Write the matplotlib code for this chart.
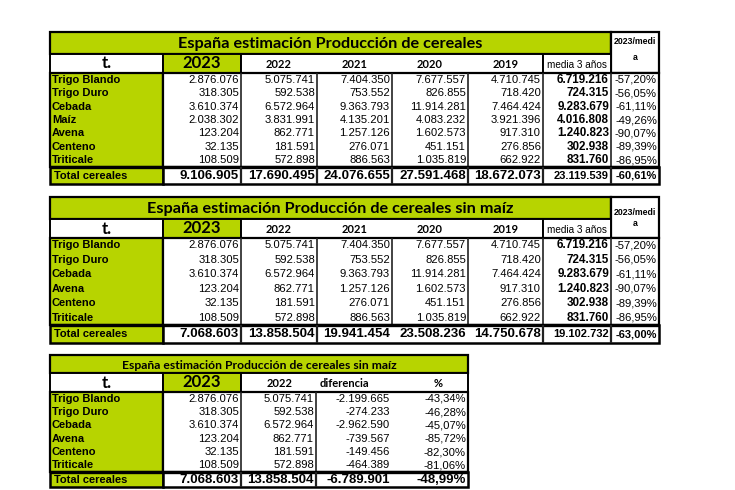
import matplotlib.pyplot as plt
from matplotlib.patches import Rectangle

# datos (t.)
cultivos = ['Trigo Blando', 'Trigo Duro', 'Cebada', 'Maíz', 'Avena', 'Centeno', 'Triticale']
anios = ['2022', '2021', '2020', '2019']
v2023 = ['2.876.076', '318.305', '3.610.374', '2.038.302', '123.204', '32.135', '108.509']
v2022 = ['5.075.741', '592.538', '6.572.964', '3.831.991', '862.771', '181.591', '572.898']
v2021 = ['7.404.350', '753.552', '9.363.793', '4.135.201', '1.257.126', '276.071', '886.563']
v2020 = ['7.677.557', '826.855', '11.914.281', '4.083.232', '1.602.573', '451.151', '1.035.819']
v2019 = ['4.710.745', '718.420', '7.464.424', '3.921.396', '917.310', '276.856', '662.922']
media3 = ['6.719.216', '724.315', '9.283.679', '4.016.808', '1.240.823', '302.938', '831.760']
pct_media = ['-57,20%', '-56,05%', '-61,11%', '-49,26%', '-90,07%', '-89,39%', '-86,95%']
total_1 = ['9.106.905', '17.690.495', '24.076.655', '27.591.468', '18.672.073', '23.119.539', '-60,61%']
total_2 = ['7.068.603', '13.858.504', '19.941.454', '23.508.236', '14.750.678', '19.102.732', '-63,00%']

diferencia = ['-2.199.665', '-274.233', '-2.962.590', '-739.567', '-149.456', '-464.389']
pct_dif = ['-43,34%', '-46,28%', '-45,07%', '-85,72%', '-82,30%', '-81,06%']
total_3 = ['7.068.603', '13.858.504', '-6.789.901', '-48,99%']

VERDE = '#b7d400'
NUM = 'Liberation Sans'
CAL = 'Lato'

fig = plt.figure(figsize=(7.35, 4.9), dpi=100)
ax = fig.add_axes([0, 0, 1, 1])
ax.set_xlim(0, 735)
ax.set_ylim(490, 0)
ax.axis('off')


def caja(x0, y0, x1, y1, color='white', lw=1.0):
    ax.add_patch(Rectangle((x0, y0), x1 - x0, y1 - y0, facecolor=color,
                           edgecolor='black', linewidth=lw, zorder=2))


def vlinea(x, y0, y1, lw=1.0):
    ax.plot([x, x], [y0, y1], color='#222222', lw=lw, zorder=3, solid_capstyle='butt')


def hlinea(x0, x1, y, lw=1.0):
    ax.plot([x0, x1], [y, y], color='black', lw=lw, zorder=3, solid_capstyle='butt')


def texto(x, y, s, ha='right', size=8, bold=False, family=NUM):
    ax.text(x, y, s, ha=ha, va='center', fontsize=size, family=family,
            fontweight='bold' if bold else 'normal', zorder=4)


def tabla_grande(ytit, yhead, ydat, ytot, ybot, titulo, filas, cols, totales,
                 ymedi, ya, tot_sin_lineas=()):
    xs = [50, 163, 241, 317, 392, 468, 543, 611, 659]
    n = len(filas)
    h = (ytot - ydat) / n
    # titulo
    caja(xs[0], ytit, xs[7], yhead, VERDE, 1.6)
    texto((xs[0] + xs[7]) / 2, (ytit + yhead) / 2 + 1, titulo, 'center', 11.7, True, CAL)
    caja(xs[7], ytit, xs[8], ydat, 'white', 1.6)
    texto((xs[7] + xs[8]) / 2, ymedi, '2023/medi', 'center', 6.3, True)
    texto((xs[7] + xs[8]) / 2, ya, 'a', 'center', 6.3, True)
    # cabecera
    caja(xs[0], yhead, xs[1], ydat, 'white', 1.4)
    texto((xs[0] + xs[1]) / 2, (yhead + ydat) / 2, 't.', 'center', 12, True, CAL)
    caja(xs[1], yhead, xs[2], ydat, VERDE, 1.4)
    texto((xs[1] + xs[2]) / 2, (yhead + ydat) / 2 - 1, '2023', 'center', 12, True, CAL)
    caja(xs[2], yhead, xs[6], ydat, 'white', 1.4)
    for i, a in enumerate(anios):
        texto((xs[2 + i] + xs[3 + i]) / 2, (yhead + ydat) / 2 + 1, a, 'center', 8, True, CAL)
    caja(xs[6], yhead, xs[7], ydat, 'white', 1.4)
    texto((xs[6] + xs[7]) / 2, (yhead + ydat) / 2 + 1, 'media 3 años', 'center', 7.2)
    # datos
    caja(xs[0], ydat, xs[1], ytot, VERDE, 1.6)
    caja(xs[1], ydat, xs[8], ytot, 'white', 1.6)
    for x in xs[2:8]:
        vlinea(x, ydat, ytot, 1.2)
    for i, nombre in enumerate(filas):
        yc = ydat + h * (i + 0.5)
        texto(xs[0] + 2, yc, nombre, 'left', 8, True)
        for j, serie in enumerate(cols):
            bold = j == 5
            texto(xs[j + 2] - 2, yc, serie[i], 'right', 8.4 if bold else 8.1, bold)
    # total
    caja(xs[0], ytot, xs[1], ybot, VERDE, 1.8)
    caja(xs[1], ytot, xs[8], ybot, 'white', 1.8)
    hlinea(xs[0], xs[8], ytot, 2.4)
    for k, x in enumerate(xs[2:8]):
        if k not in tot_sin_lineas:
            vlinea(x, ytot, ybot, 1.6)
    yc = (ytot + ybot) / 2
    texto(xs[0] + 4, yc, 'Total cereales', 'left', 8, True)
    for j, v in enumerate(totales):
        size = 9.5 if j < 5 else 8
        texto(xs[j + 2] - 2, yc, v, 'right', size, True)


tabla_grande(32, 54, 73, 167, 184, 'España estimación Producción de cereales',
             cultivos, [v2023, v2022, v2021, v2020, v2019, media3, pct_media],
             total_1, 41, 58)

sin_maiz = [i for i, c in enumerate(cultivos) if c != 'Maíz']


def quitar(serie):
    return [serie[i] for i in sin_maiz]


tabla_grande(197, 219, 238, 325, 343, 'España estimación Producción de cereales sin maíz',
             quitar(cultivos),
             [quitar(s) for s in [v2023, v2022, v2021, v2020, v2019, media3, pct_media]],
             total_2, 212, 223, tot_sin_lineas=(2, 3))

# tabla 3
xs = [50, 163, 241, 316, 392, 468]
ytit, yhead, ydat, ytot, ybot = 355, 373, 392, 472, 487
filas3 = quitar(cultivos)
h = (ytot - ydat) / len(filas3)
caja(xs[0], ytit, xs[5], yhead, VERDE, 1.6)
texto((xs[0] + xs[5]) / 2, (ytit + yhead) / 2 + 1,
      'España estimación Producción de cereales sin maíz', 'center', 8.7, True, CAL)
caja(xs[0], yhead, xs[1], ydat, 'white', 1.4)
texto((xs[0] + xs[1]) / 2, (yhead + ydat) / 2, 't.', 'center', 12, True, CAL)
caja(xs[1], yhead, xs[2], ydat, VERDE, 1.4)
texto((xs[1] + xs[2]) / 2, (yhead + ydat) / 2 - 1, '2023', 'center', 12, True, CAL)
caja(xs[2], yhead, xs[5], ydat, 'white', 1.4)
texto(280, (yhead + ydat) / 2 + 1, '2022', 'center', 8, True, CAL)
texto(344, (yhead + ydat) / 2 + 1, 'diferencia', 'center', 8, True, CAL)
texto(438, (yhead + ydat) / 2 + 1, '%', 'center', 8, True, CAL)
caja(xs[0], ydat, xs[1], ytot, VERDE, 1.6)
caja(xs[1], ydat, xs[5], ytot, 'white', 1.6)
for x in xs[2:4]:
    vlinea(x, ydat, ytot, 1.2)
cols3 = [quitar(v2023), quitar(v2022), diferencia, pct_dif]
for i, nombre in enumerate(filas3):
    yc = ydat + h * (i + 0.5)
    texto(xs[0] + 2, yc, nombre, 'left', 8, True)
    for j, serie in enumerate(cols3):
        texto(xs[j + 2] - 2, yc, serie[i], 'right', 8.1)
caja(xs[0], ytot, xs[1], ybot, VERDE, 1.8)
caja(xs[1], ytot, xs[5], ybot, 'white', 1.8)
hlinea(xs[0], xs[5], ytot, 2.4)
for x in xs[2:4]:
    vlinea(x, ytot, ybot, 1.6)
yc = (ytot + ybot) / 2
texto(xs[0] + 4, yc, 'Total cereales', 'left', 8, True)
for j, v in enumerate(total_3):
    texto(xs[j + 2] - 2, yc, v, 'right', 9.5, True)

fig.savefig('out.png', dpi=100)
